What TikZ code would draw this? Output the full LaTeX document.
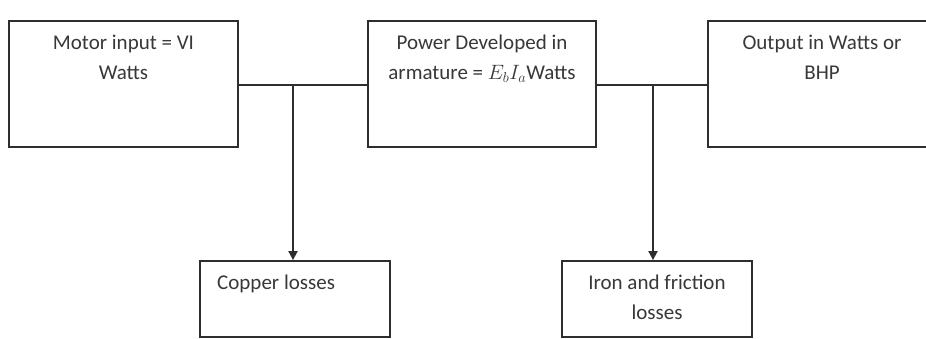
\documentclass[tikz,border=0pt]{standalone}
\usepackage{fontspec}
\setmainfont{Carlito}
\usetikzlibrary{arrows.meta}
\definecolor{linec}{HTML}{2E2E2E}
\definecolor{txtc}{HTML}{383838}
\begin{document}
\begin{tikzpicture}[x=1pt,y=-1pt,
  boxstyle/.style={draw=linec,line width=1.8pt,rectangle,inner sep=0pt},
  txt/.style={text=txtc,font=\fontsize{21}{30}\selectfont,inner sep=0pt,align=center},
  conn/.style={draw=linec,line width=1.8pt},
  arr/.style={conn,-{Triangle[length=9pt,width=9pt]}}]
\useasboundingbox (0,0) rectangle (926,339);
\clip (0,0) rectangle (926,339);
\fill[white] (0,0) rectangle (926,339);
% boxes
\node[boxstyle,minimum width=229pt,minimum height=126pt] (b1) at (123.5,84) {};
\node[boxstyle,minimum width=228pt,minimum height=126pt] (b2) at (482,84) {};
\node[boxstyle,minimum width=232pt,minimum height=126pt] (b3) at (824,84) {};
\node[boxstyle,minimum width=190pt,minimum height=76pt] (cu) at (295,299) {};
\node[boxstyle,minimum width=190pt,minimum height=76pt] (fe) at (657,299) {};
% texts (anchor base = baseline of the last line)
\node[txt,anchor=base] (t1) at (123.5,79.5) {Motor input = VI\\Watts};
\node[txt,anchor=base] (t2) at (482,79.5) {Power Developed in\\armature = $E_bI_a$Watts};
\node[txt,anchor=base] (t3) at (822,79.5) {Output in Watts or\\BHP};
\node[txt,anchor=base west] (t4) at (217,289) {Copper losses};
\node[txt,anchor=base] (t5) at (657,319) {Iron and friction\\losses};
% connectors
\coordinate (j1) at (293,85);
\coordinate (j2) at (653,85);
\draw[conn] (b1.east |- j1) -- (b2.west |- j1);
\draw[conn] (b2.east |- j2) -- (b3.west |- j2);
\draw[arr] (j1) -- (j1 |- cu.north);
\draw[arr] (j2) -- (j2 |- fe.north);
\end{tikzpicture}
\end{document}
